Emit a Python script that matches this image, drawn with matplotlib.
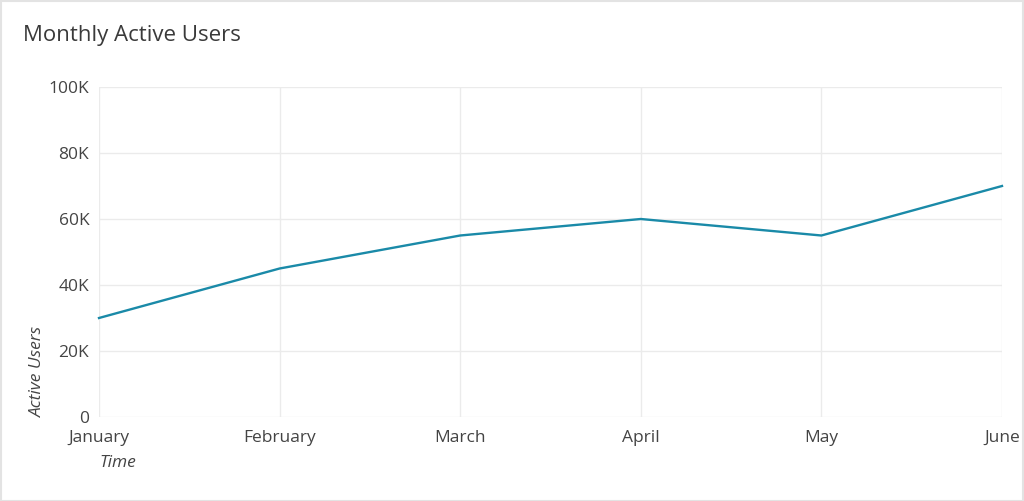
import matplotlib
matplotlib.use("Agg")
import matplotlib.pyplot as plt
from matplotlib.patches import Rectangle
from matplotlib.ticker import FuncFormatter

months = ["January", "February", "March", "April", "May", "June"]
active_users = [30000, 45000, 55000, 60000, 55000, 70000]
y_ticks = [0, 20000, 40000, 60000, 80000, 100000]

plt.rcParams['font.family'] = ['Open Sans', 'DejaVu Sans']

W, H = 1024, 501
fig = plt.figure(figsize=(W / 100, H / 100), dpi=100)
ax = fig.add_axes([99 / W, 1 - 417 / H, (1002 - 99) / W, (417 - 87) / H])

x = list(range(len(months)))
ax.plot(x, active_users, color="#1a8aa8", linewidth=1.7, solid_joinstyle="miter", clip_on=False, zorder=3)

ax.set_xlim(0, len(months) - 1)
ax.set_ylim(0, 100000)
ax.set_xticks(x)
ax.set_xticklabels(months)
ax.set_yticks(y_ticks)

def fmt(v, pos):
    return "0" if v == 0 else f"{int(v / 1000)}K"
ax.yaxis.set_major_formatter(FuncFormatter(fmt))

for s in ax.spines.values():
    s.set_visible(False)
ax.grid(True, color="#ebebeb", linewidth=1.0)
ax.set_axisbelow(True)
ax.tick_params(length=0, labelsize=12.5, labelcolor="#444444", pad=7)
ax.tick_params(axis='x', pad=9)

ax.set_ylabel("Active Users", fontsize=12.5, style="italic", color="#444444", loc="bottom", labelpad=2)
ax.set_xlabel("Time", fontsize=12.5, style="italic", color="#444444", loc="left", labelpad=7)

fig.text(23 / W, 1 - 35 / H, "Monthly Active Users", fontsize=16, color="#3a3a3a", va="center", ha="left")

fig.patches.append(Rectangle((0.5 / W, 0.5 / H), 1 - 1.5 / W, 1 - 1.5 / H, transform=fig.transFigure,
                             fill=False, edgecolor="#e3e3e3", linewidth=1.5))

fig.savefig("out.png", dpi=100)
